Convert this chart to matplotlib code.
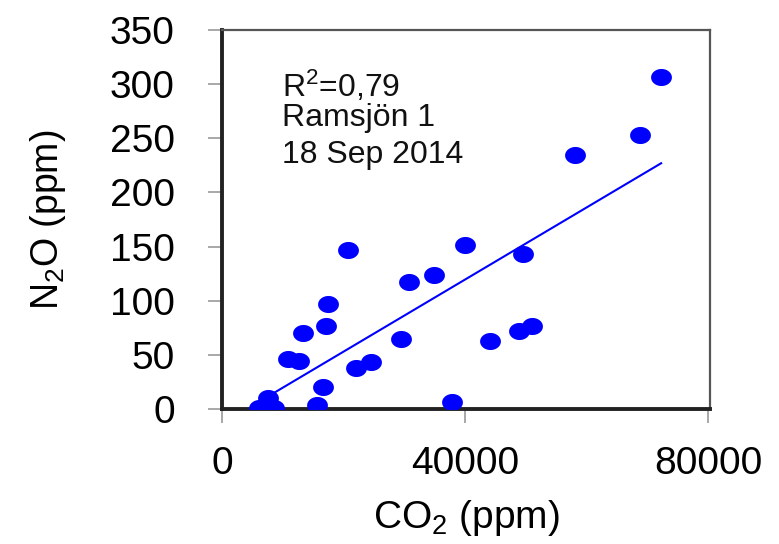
import numpy as np
import matplotlib
matplotlib.use("Agg")
import matplotlib.pyplot as plt
from matplotlib.path import Path

plt.rcParams['font.family'] = ['Liberation Sans', 'DejaVu Sans']
plt.rcParams['mathtext.fontset'] = 'custom'
plt.rcParams['mathtext.rm'] = 'Liberation Sans'
plt.rcParams['mathtext.it'] = 'Liberation Sans:italic'

# data (CO2 ppm, N2O ppm)
co2 = [72260, 68800, 58100, 20800, 40000, 49600, 30830, 34950, 17400, 17120,
       13280, 10920, 12730, 29400, 44100, 48940, 50970, 22000, 24470, 16570,
       15580, 37910, 7620, 6140, 8610]
n2o = [306.7, 253, 234.6, 147, 151, 143.4, 117, 124, 97.3, 76.8,
       70.3, 45.8, 44.5, 64.5, 62.9, 71.8, 76.8, 37.5, 43, 20.6,
       3.7, 6.7, 9.8, 1.2, 0.6]

# regression line
fit_slope = 0.003329
fit_intercept = -13.6
fit_x_range = [8450, 72260]

x_ticks = [0, 40000, 80000]
y_ticks = [0, 50, 100, 150, 200, 250, 300, 350]
annot_lines = [r'R$^2$=0,79', 'Ramsjön 1', '18 Sep 2014']

# ellipse marker (image is horizontally stretched)
t = np.linspace(0, 2 * np.pi, 60)
verts = np.column_stack([np.cos(t), 0.82 * np.sin(t)])
ell = Path(verts, closed=True)

fig = plt.figure(figsize=(7.79, 5.44), dpi=100)
ax = fig.add_axes([222 / 779, 1 - 409 / 544, (710 - 222) / 779, (409 - 30) / 544])

ax.scatter(co2, n2o, marker=ell, s=225, color='#0000ff', linewidths=0, zorder=3)
fx = np.array(fit_x_range, dtype=float)
ax.plot(fx, fit_slope * fx + fit_intercept, color='#0000ff', lw=1.5, zorder=2)

ax.set_xlim(0, 80300)
ax.set_ylim(0, 350)
ax.set_xticks(x_ticks)
ax.set_xticklabels([str(v) for v in x_ticks])
ax.set_yticks(y_ticks)
ax.set_yticklabels([str(v) for v in y_ticks])
ax.tick_params(axis='both', labelsize=28, length=10, width=1.2, color='#999999')
ax.tick_params(axis='y', pad=24)
ax.tick_params(axis='x', pad=17)

for side in ['left', 'bottom']:
    ax.spines[side].set_linewidth(2.8)
    ax.spines[side].set_color('#222222')
for side in ['top', 'right']:
    ax.spines[side].set_linewidth(1.6)
    ax.spines[side].set_color('#555555')

ax.set_xlabel(r'CO$_2$ (ppm)', fontsize=28, labelpad=11)
ax.set_ylabel(r'N$_2$O (ppm)', fontsize=27, labelpad=30)

baselines = [0.823, 0.748, 0.649]
for txt, yy in zip(annot_lines, baselines):
    ax.text(0.123, yy, txt, transform=ax.transAxes, fontsize=23,
            va='baseline', ha='left', color='#111111')

fig.savefig('out.png', dpi=100)
